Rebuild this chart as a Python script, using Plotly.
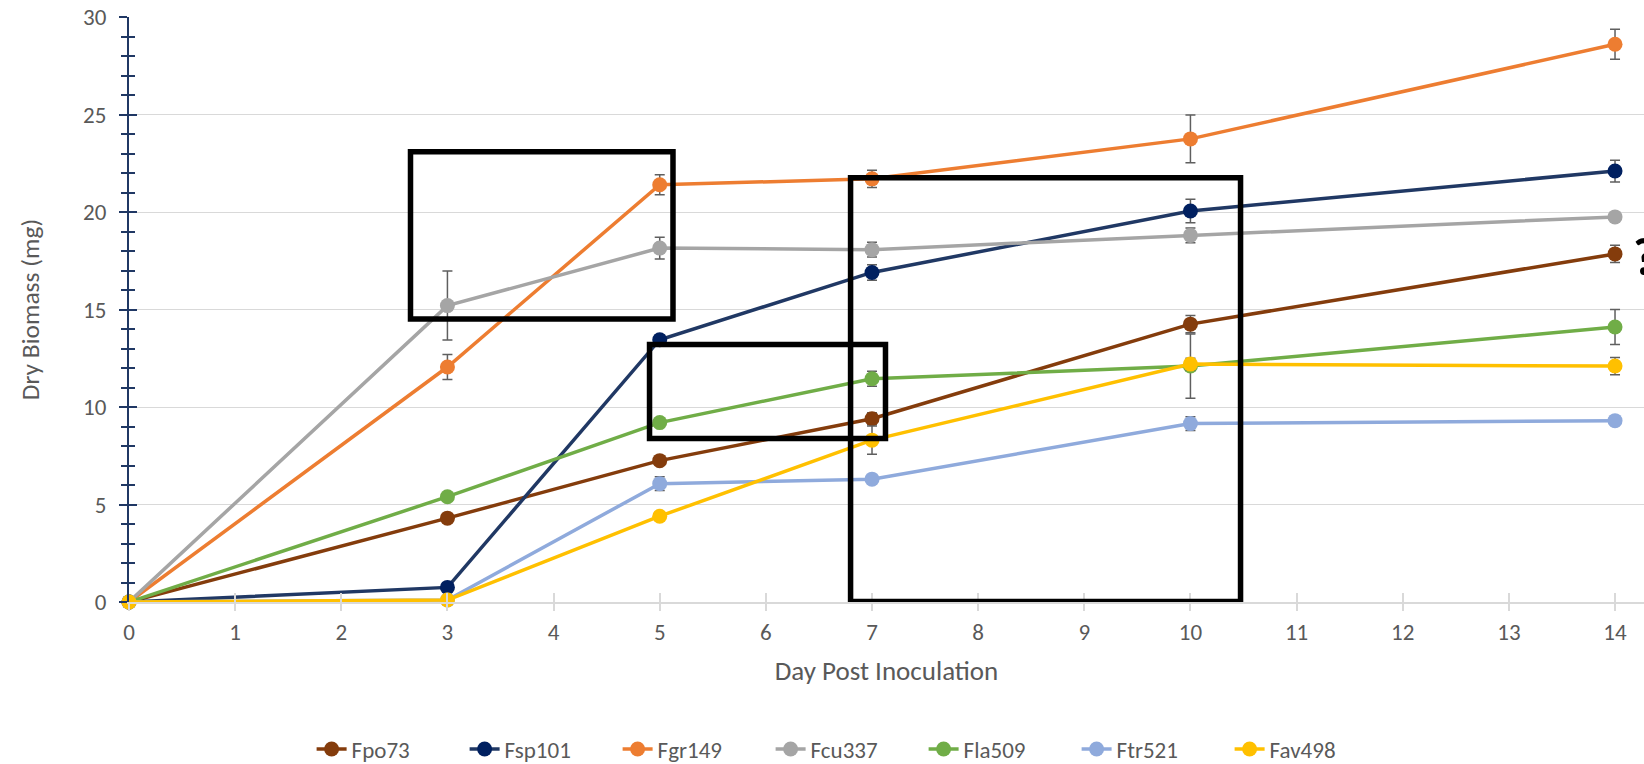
import plotly.graph_objects as go

days = [0, 3, 5, 7, 10, 14]

series_names = ["Fpo73", "Fsp101", "Fgr149", "Fcu337", "Fla509", "Ftr521", "Fav498"]

fpo73 = [0, 4.3, 7.25, 9.4, 14.25, 17.85]
fsp101 = [0, 0.75, 13.45, 16.9, 20.05, 22.1]
fgr149 = [0, 12.05, 21.4, 21.7, 23.75, 28.6]
fcu337 = [0, 15.2, 18.15, 18.07, 18.8, 19.75]
fla509 = [0, 5.4, 9.2, 11.45, 12.1, 14.1]
ftr521 = [0, 0.1, 6.07, 6.3, 9.15, 9.3]
fav498 = [0, 0.1, 4.4, 8.3, 12.2, 12.1]

err_fpo73 = [0, 0.2, 0.2, 0.3, 0.44, 0.44]
err_fsp101 = [0, 0.15, 0.25, 0.4, 0.6, 0.56]
err_fgr149 = [0, 0.64, 0.51, 0.44, 1.22, 0.77]
err_fcu337 = [0, 1.77, 0.56, 0.38, 0.38, 0.15]
err_fla509 = [0, 0.2, 0.2, 0.38, 1.65, 0.9]
err_ftr521 = [0, 0.1, 0.35, 0.2, 0.35, 0.25]
err_fav498 = [0, 0.1, 0.2, 0.72, 0.3, 0.44]

values = [fpo73, fsp101, fgr149, fcu337, fla509, ftr521, fav498]
errors = [err_fpo73, err_fsp101, err_fgr149, err_fcu337, err_fla509, err_ftr521, err_fav498]
line_colors = ["#843C0C", "#203864", "#ED7D31", "#A5A5A5", "#70AD47", "#8FAADC", "#FFC000"]
marker_colors = ["#843C0C", "#002060", "#ED7D31", "#A5A5A5", "#70AD47", "#8FAADC", "#FFC000"]

FONT = "Carlito, Lato, 'Open Sans', sans-serif"
TXT = "#595959"

fig = go.Figure()
for name, vals, errs, lc, mc in zip(series_names, values, errors, line_colors, marker_colors):
    fig.add_trace(go.Scatter(
        x=days, y=vals, name=name, mode="lines+markers",
        line=dict(color=lc, width=3.5),
        marker=dict(color=mc, size=15),
        error_y=dict(type="data", array=errs, visible=True, color="#5F5F5F", thickness=1.5, width=5),
        cliponaxis=False,
    ))

x_max = 14.273

fig.update_layout(
    width=1644, height=764,
    margin=dict(l=129, r=0, t=17, b=162, autoexpand=False),
    paper_bgcolor="white", plot_bgcolor="white",
    font=dict(family=FONT, size=23, color=TXT),
    showlegend=True,
    legend=dict(orientation="h", x=0.474, xanchor="center", y=-0.2513, yanchor="middle",
                font=dict(family=FONT, size=23, color=TXT), entrywidth=108,
                itemwidth=30, bgcolor="rgba(0,0,0,0)"),
    xaxis=dict(range=[0, x_max], tickmode="linear", tick0=0, dtick=1,
               showgrid=False, zeroline=False,
               showline=True, linecolor="#D9D9D9", linewidth=1.5,
               ticks="outside", ticklen=7, tickcolor="#D9D9D9", tickwidth=1.5,
               tickfont=dict(family=FONT, size=23, color=TXT), ticklabelstandoff=2,
               ticklabeloverflow="allow",
               title=dict(text="Day Post Inoculation", font=dict(family=FONT, size=27, color=TXT), standoff=16)),
    yaxis=dict(range=[0, 30], tickmode="linear", tick0=0, dtick=5,
               showgrid=True, gridcolor="#D9D9D9", gridwidth=1.3, zeroline=False,
               showline=True, linecolor="#203864", linewidth=2,
               ticks="outside", ticklen=8, tickcolor="#203864", tickwidth=2,
               minor=dict(dtick=1, ticks="outside", ticklen=6, tickcolor="#203864", tickwidth=1.5, showgrid=False),
               tickfont=dict(family=FONT, size=23, color=TXT), ticklabelstandoff=8,
               ticklabeloverflow="allow",
               title=dict(text="Dry Biomass (mg)", font=dict(family=FONT, size=25.5, color=TXT), standoff=36)),
    xaxis2=dict(range=[0, x_max], overlaying="x", anchor="y", side="bottom",
                tickmode="linear", tick0=0, dtick=1, showgrid=False, zeroline=False, showline=False,
                ticks="inside", ticklen=9, tickcolor="#D9D9D9", tickwidth=1.5, showticklabels=False),
    yaxis2=dict(range=[0, 30], overlaying="y", anchor="x", side="left",
                tickmode="linear", tick0=0, dtick=5, showgrid=False, zeroline=False, showline=False,
                ticks="inside", ticklen=8, tickcolor="#203864", tickwidth=2, showticklabels=False,
                minor=dict(dtick=1, ticks="inside", ticklen=6, tickcolor="#203864", tickwidth=1.5, showgrid=False)),
)

# invisible helper trace so the overlay axes are drawn
fig.add_trace(go.Scatter(x=[0], y=[0], xaxis="x2", yaxis="y2", mode="markers",
                         marker=dict(opacity=0), showlegend=False, hoverinfo="skip"))

# black highlight boxes drawn over the chart
boxes = [(2.652, 14.51, 5.125, 23.09), (6.798, 0.03, 10.472, 21.76), (4.904, 8.38, 7.127, 13.2)]
for x0, y0, x1, y1 in boxes:
    fig.add_shape(type="rect", xref="x", yref="y", x0=x0, y0=y0, x1=x1, y1=y1,
                  line=dict(color="black", width=5.5), fillcolor="rgba(0,0,0,0)", layer="above")

# partially visible mark at the right edge of the reference
fig.add_annotation(x=14.15, y=17.7, xref="x", yref="y", text="<b>?</b>", showarrow=False,
                   xanchor="left", yanchor="middle", font=dict(family="Carlito, Liberation Sans", size=52, color="black"))

fig.write_html("out.html", config={"displayModeBar": False},
               post_script="document.body.style.margin='0';document.body.style.padding='0';")
